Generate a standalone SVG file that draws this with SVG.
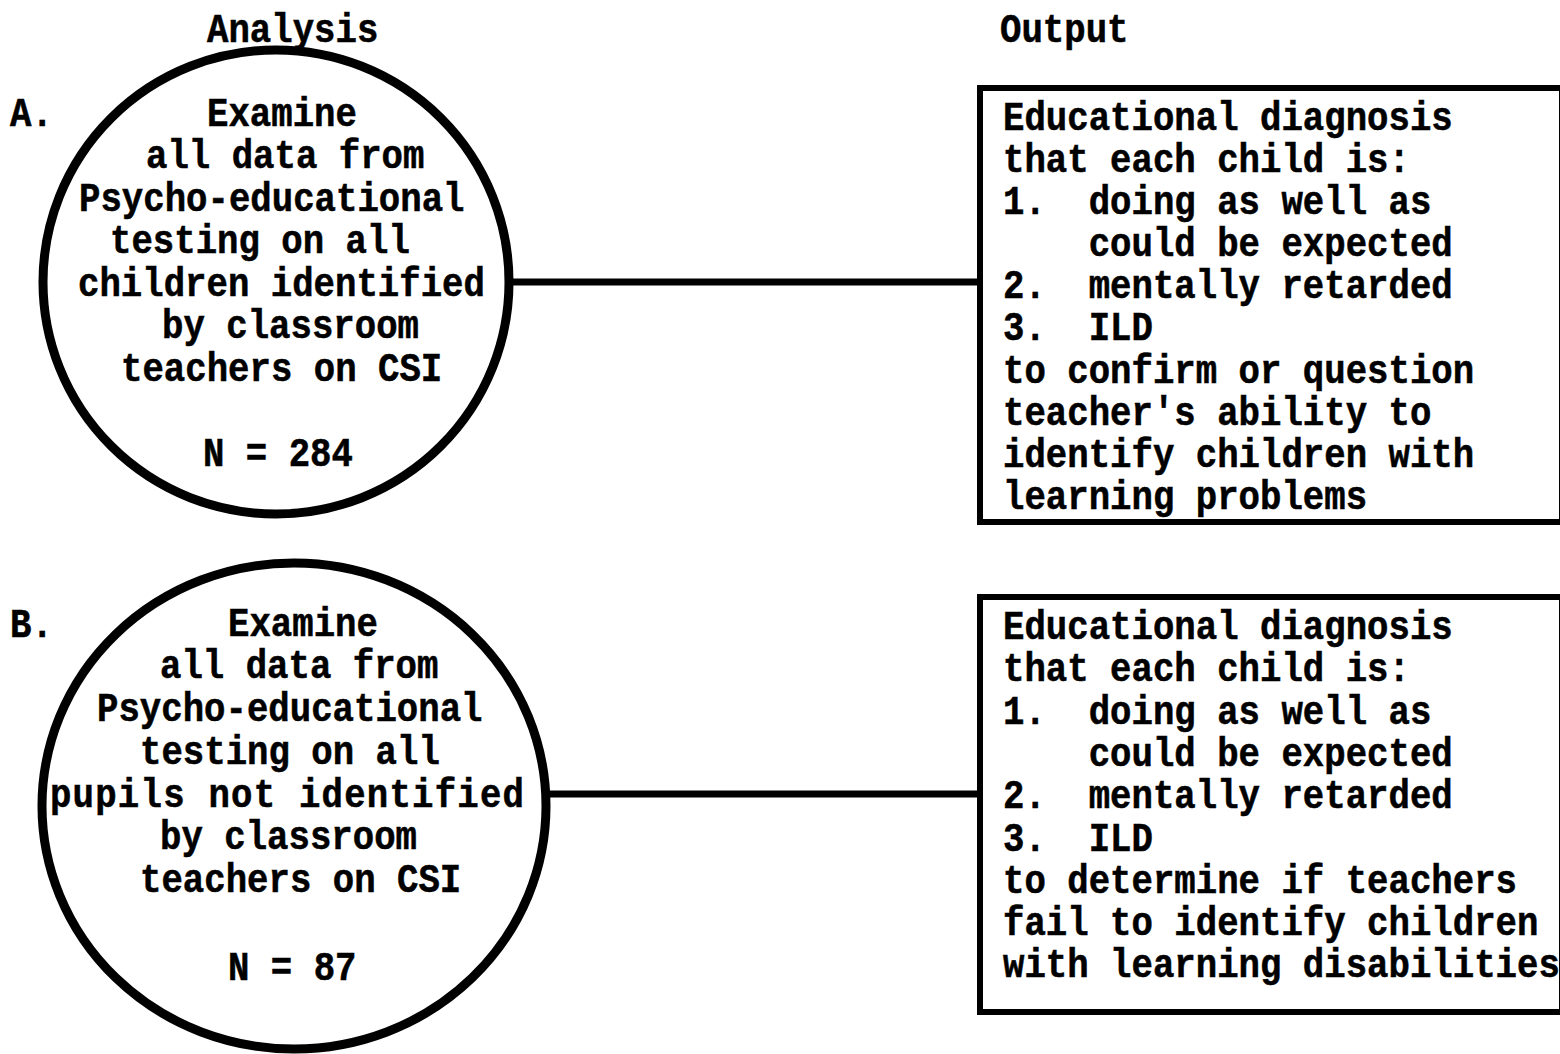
<svg xmlns="http://www.w3.org/2000/svg" width="1560" height="1054" viewBox="0 0 1560 1054">
  <style>
    .t { font-family: "Liberation Mono", "Courier New", monospace; font-weight: bold; font-size: 35.7px; fill: #000; stroke: #000; stroke-width: 0.5px; white-space: pre; }
    .ring { fill: none; stroke: #000; stroke-width: 9; }
    .box { fill: none; stroke: #000; stroke-width: 6; }
    .link { stroke: #000; stroke-width: 7; fill: none; }
  </style>
  <rect width="1560" height="1054" fill="#fff"/>

  <!-- column headings -->
  <g id="headings">
    <text class="t" transform="translate(207,42) scale(1,1.12)">Analysis</text>
    <text class="t" transform="translate(1000,42) scale(1,1.12)">Output</text>
  </g>

  <!-- connectors -->
  <g id="connectors">
    <line class="link" x1="508" y1="282" x2="980" y2="282"/>
    <line class="link" x1="545" y1="794" x2="980" y2="794"/>
  </g>

  <!-- row A: analysis -->
  <g id="analysis-a">
    <text class="t" transform="translate(10,126) scale(1,1.12)">A.</text>
    <ellipse class="ring" cx="276" cy="282" rx="233" ry="232"/>
    <text class="t" transform="translate(207,126) scale(1,1.12)">Examine</text>
    <text class="t" transform="translate(146,168) scale(1,1.12)">all data from</text>
    <text class="t" transform="translate(79,211) scale(1,1.12)">Psycho-educational</text>
    <text class="t" transform="translate(110,253) scale(1,1.12)">testing on all</text>
    <text class="t" transform="translate(78,296) scale(1,1.12)">children identified</text>
    <text class="t" transform="translate(162,338) scale(1,1.12)">by classroom</text>
    <text class="t" transform="translate(121,381) scale(1,1.12)">teachers on CSI</text>
    <text class="t" transform="translate(203,466) scale(1,1.12)">N = 284</text>
  </g>

  <!-- row A: output -->
  <g id="output-a">
    <rect class="box" x="980" y="88" width="582" height="434"/>
    <text class="t" transform="translate(1003,130) scale(1,1.12)">Educational diagnosis</text>
    <text class="t" transform="translate(1003,172) scale(1,1.12)">that each child is:</text>
    <text class="t" transform="translate(1003,214) scale(1,1.12)">1.  doing as well as</text>
    <text class="t" transform="translate(1003,256) scale(1,1.12)">    could be expected</text>
    <text class="t" transform="translate(1003,298) scale(1,1.12)">2.  mentally retarded</text>
    <text class="t" transform="translate(1003,340) scale(1,1.12)">3.  ILD</text>
    <text class="t" transform="translate(1003,383) scale(1,1.12)">to confirm or question</text>
    <text class="t" transform="translate(1003,425) scale(1,1.12)">teacher's ability to</text>
    <text class="t" transform="translate(1003,467) scale(1,1.12)">identify children with</text>
    <text class="t" transform="translate(1003,509) scale(1,1.12)">learning problems</text>
  </g>

  <!-- row B: analysis -->
  <g id="analysis-b">
    <text class="t" transform="translate(10,637) scale(1,1.12)">B.</text>
    <ellipse class="ring" cx="294" cy="806" rx="252" ry="243"/>
    <text class="t" transform="translate(228,636) scale(1,1.12)">Examine</text>
    <text class="t" transform="translate(160,678) scale(1,1.12)">all data from</text>
    <text class="t" transform="translate(97,721) scale(1,1.12)">Psycho-educational</text>
    <text class="t" transform="translate(140,764) scale(1,1.12)">testing on all</text>
    <text class="t" transform="translate(50,807) scale(1,1.12)" textLength="474" lengthAdjust="spacing">pupils not identified</text>
    <text class="t" transform="translate(160,849) scale(1,1.12)">by classroom</text>
    <text class="t" transform="translate(140,892) scale(1,1.12)">teachers on CSI</text>
    <text class="t" transform="translate(228,980) scale(1,1.12)">N = 87</text>
  </g>

  <!-- row B: output -->
  <g id="output-b">
    <rect class="box" x="980" y="597" width="582" height="415"/>
    <text class="t" transform="translate(1003,639) scale(1,1.12)">Educational diagnosis</text>
    <text class="t" transform="translate(1003,681) scale(1,1.12)">that each child is:</text>
    <text class="t" transform="translate(1003,724) scale(1,1.12)">1.  doing as well as</text>
    <text class="t" transform="translate(1003,766) scale(1,1.12)">    could be expected</text>
    <text class="t" transform="translate(1003,808) scale(1,1.12)">2.  mentally retarded</text>
    <text class="t" transform="translate(1003,851) scale(1,1.12)">3.  ILD</text>
    <text class="t" transform="translate(1003,893) scale(1,1.12)">to determine if teachers</text>
    <text class="t" transform="translate(1003,935) scale(1,1.12)">fail to identify children</text>
    <text class="t" transform="translate(1003,977) scale(1,1.12)">with learning disabilities</text>
  </g>
</svg>
